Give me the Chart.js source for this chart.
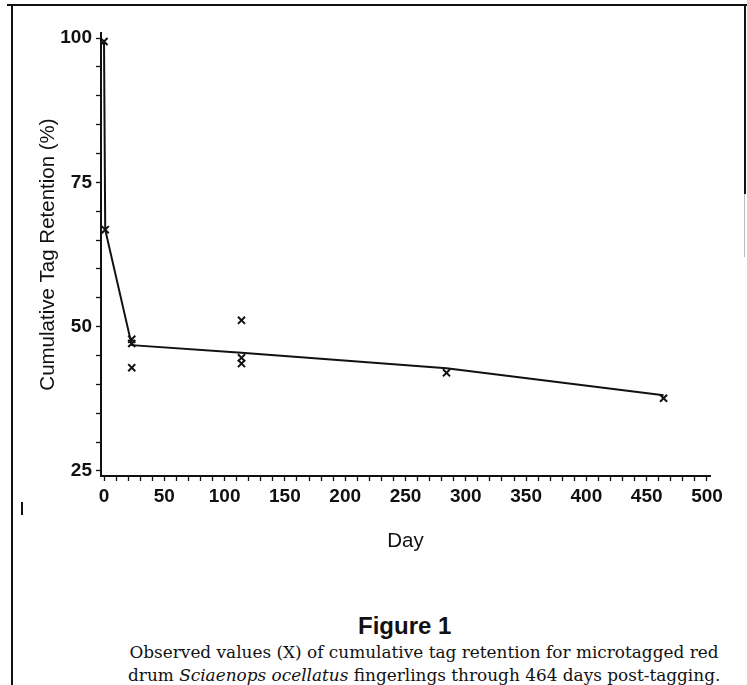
<!DOCTYPE html>
<html>
<head>
<meta charset="utf-8">
<script src="https://cdn.jsdelivr.net/npm/chart.js@4.4.1/dist/chart.umd.min.js"></script>
<style>
    body { margin: 0; background: #fff; }
    #wrap { position: relative; width: 747px; height: 685px; overflow: hidden; background: #fff; }
    #cv { position: absolute; left: 0; top: 0; }
    .rule { position: absolute; background: #111; }
    .cap { position: absolute; left: 0; width: 747px; text-align: center; color: #111; white-space: nowrap; }
</style>
</head>
<body>
<div id="wrap">
    <canvas id="cv" width="747" height="580"></canvas>

    <!-- page frame from the scan -->
    <div class="rule" style="left:7px; top:4px; width:740px; height:2px;"></div>
    <div class="rule" style="left:11px; top:4px; width:2px; height:681px;"></div>
    <div class="rule" style="left:744px; top:4px; width:2px; height:190px;"></div>
    <div class="rule" style="left:744px; top:194px; width:1px; height:63px; background:#bbb;"></div>
    <div class="rule" style="left:21px; top:502px; width:2px; height:13px;"></div>

    <div class="cap" style="top:612px; left:358px; width:auto; font-family:'Liberation Sans', Arial, sans-serif; font-weight:bold; font-size:24px;">Figure 1</div>
    <div class="cap" style="top:641px; left:128px; width:592px; font-family:'DejaVu Serif', serif; font-size:16.9px; line-height:23px;">
        Observed values (X) of cumulative tag retention for microtagged red<br>
        drum <i>Sciaenops ocellatus</i> fingerlings through 464 days post-tagging.
    </div>
</div>

<script>
// observed retention (x marks)
var obsDay = [0, 1, 23, 23, 23, 114, 114, 114, 284, 464];
var obsRet = [99.4, 66.8, 47.8, 47.1, 42.9, 51.1, 44.6, 43.6, 42.0, 37.6];

// fitted line
var fitDay = [0, 1, 23, 114, 284, 464];
var fitRet = [99.4, 66.8, 46.8, 45.5, 42.8, 38.1];

// axis ticks
var xTicks = [];
for (var d = 0; d <= 500; d += 10) xTicks.push(d);
var yTicks = [];
for (var r = 25; r <= 100; r += 5) yTicks.push(r);

var tickFont = { family: "'Liberation Sans', Arial, sans-serif", size: 19, weight: 'bold' };
var titleFont = { family: "'Liberation Sans', Arial, sans-serif", size: 20.5 };

function toXY(xs, ys) {
    var out = [];
    for (var i = 0; i < xs.length; i++) out.push({ x: xs[i], y: ys[i] });
    return out;
}

var ctx = document.getElementById('cv');

var chart = new Chart(ctx, {
    type: 'scatter',
    data: {
        datasets: [{
            label: 'Fitted',
            data: toXY(fitDay, fitRet),
            showLine: true,
            borderColor: '#111',
            borderWidth: 2,
            pointRadius: 0,
            tension: 0
        }, {
            label: 'Observed',
            data: toXY(obsDay, obsRet),
            showLine: false,
            pointStyle: 'crossRot',
            pointRadius: 5,
            borderColor: '#111',
            borderWidth: 2
        }]
    },
    options: {
        responsive: false,
        animation: false,
        layout: { padding: { left: 0, top: 33, right: 37, bottom: 0 } },
        plugins: {
            legend: { display: false },
            tooltip: { enabled: false }
        },
        scales: {
            x: {
                type: 'linear',
                min: -2.5,
                max: 502.5,
                afterBuildTicks: function (axis) {
                    axis.ticks = xTicks.map(function (v) { return { value: v }; });
                },
                afterFit: function (axis) { axis.height = 104; },
                ticks: {
                    autoSkip: false,
                    maxRotation: 0,
                    padding: 4,
                    color: '#111',
                    font: tickFont,
                    callback: function (value) {
                        return value % 50 === 0 ? String(value) : '';
                    }
                },
                grid: { drawOnChartArea: false, tickLength: 5, tickColor: '#111', tickWidth: 1.3 },
                border: { color: '#111', width: 2 },
                title: { display: true, text: 'Day', color: '#111', font: titleFont, padding: { top: 0, bottom: 26 } }
            },
            y: {
                min: 24.13,
                max: 100.87,
                afterBuildTicks: function (axis) {
                    axis.ticks = yTicks.map(function (v) { return { value: v }; });
                },
                afterFit: function (axis) { axis.width = 101; },
                ticks: {
                    autoSkip: false,
                    padding: 4,
                    color: '#111',
                    font: tickFont,
                    callback: function (value) {
                        return value % 25 === 0 ? String(value) : '';
                    }
                },
                grid: { drawOnChartArea: false, tickLength: 5, tickColor: '#111', tickWidth: 1.3 },
                border: { color: '#111', width: 2 },
                title: { display: true, text: 'Cumulative Tag Retention (%)', color: '#111', font: titleFont, padding: { top: 36, bottom: 0 } }
            }
        }
    }
});
</script>
</body>
</html>
